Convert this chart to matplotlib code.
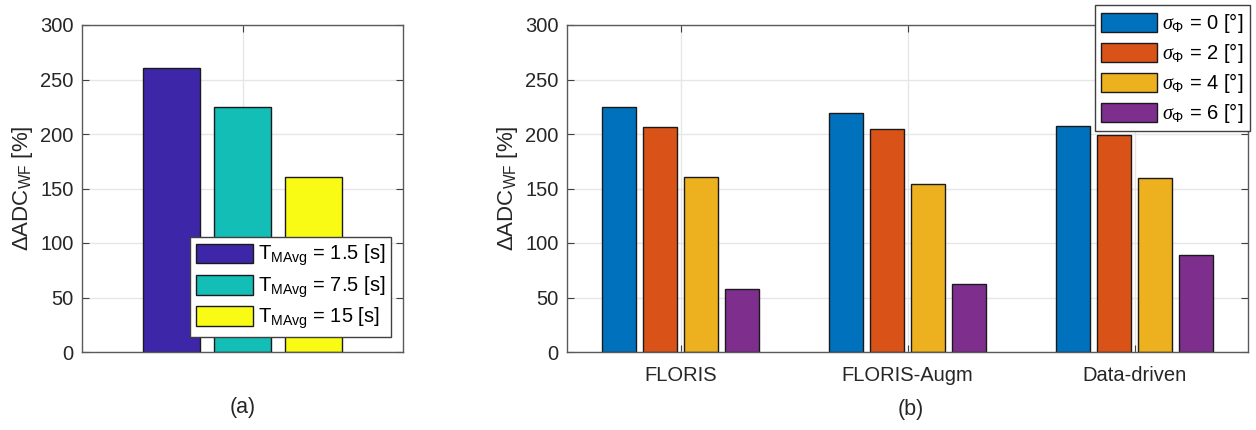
import matplotlib.pyplot as plt
import numpy as np

plt.rcParams['font.family'] = ['Liberation Sans', 'DejaVu Sans']
plt.rcParams['mathtext.fontset'] = 'custom'
plt.rcParams['mathtext.rm'] = 'Liberation Sans'
plt.rcParams['mathtext.it'] = 'Liberation Serif:italic'
plt.rcParams['mathtext.bf'] = 'Liberation Sans:bold'

# (a) moving-average window
tmavg_labels = ['1.5', '7.5', '15']
tmavg_values = [261, 225, 160.5]
tmavg_colors = ['#3E26A8', '#13BEB7', '#F9FB15']

# (b) models vs. yaw noise
models = ['FLORIS', 'FLORIS-Augm', 'Data-driven']
sigma_labels = ['0', '2', '4', '6']
sigma_values = [
    [225, 219.5, 207],
    [206, 205, 199],
    [161, 154, 159.5],
    [58, 62.5, 89],
]
sigma_colors = ['#0072BD', '#D95319', '#EDB120', '#7E2F8E']

FS = 14.5
W, H = 1256, 430
fig = plt.figure(figsize=(W / 100, H / 100), dpi=100)

def style_axes(ax):
    ax.set_ylim(0, 300)
    ax.set_yticks(np.arange(0, 301, 50))
    ax.grid(True, color='#e6e6e6', linewidth=1)
    ax.set_axisbelow(True)
    ax.tick_params(direction='in', top=True, right=True, labelsize=FS,
                   color='#404040', labelcolor='#262626', length=5, pad=6)
    ax.tick_params(axis='x', pad=10)
    for s in ax.spines.values():
        s.set_color('#5a5a5a')
        s.set_linewidth(1)
    ax.set_ylabel(r'$\Delta$ADC$_{\rm WF}$ [%]', fontsize=16, color='#262626',
                  labelpad=4)

# left panel
ax1 = fig.add_axes([82 / W, 1 - 352 / H, (403 - 82) / W, (352 - 25) / H])
offs1 = np.array([-0.222, 0, 0.222])
for i in range(len(tmavg_values)):
    ax1.bar(1 + offs1[i], tmavg_values[i], width=0.178, color=tmavg_colors[i],
            edgecolor='#1a1a1a', linewidth=1,
            label=r'T$_{\rm MAvg}$ = ' + tmavg_labels[i] + ' [s]')
ax1.set_xlim(0.5, 1.5)
ax1.set_xticks([1])
ax1.set_xticklabels([''])
style_axes(ax1)
ax1.legend(loc='lower right', bbox_to_anchor=(391 / W, 1 - 337 / H),
           bbox_transform=fig.transFigure, fontsize=FS, fancybox=False,
           framealpha=1, edgecolor='#404040', handlelength=2.8,
           handleheight=1.1, labelspacing=0.3, borderpad=0.3,
           handletextpad=0.25, borderaxespad=0)
fig.text(243 / W, 1 - 408 / H, '(a)', ha='center', va='center', fontsize=15.5,
         color='#262626')

# right panel
ax2 = fig.add_axes([567 / W, 1 - 352 / H, (1248 - 567) / W, (352 - 25) / H])
x = np.arange(1, len(models) + 1)
offs2 = np.array([-0.273, -0.091, 0.091, 0.273])
for i in range(len(sigma_values)):
    ax2.bar(x + offs2[i], sigma_values[i], width=0.15, color=sigma_colors[i],
            edgecolor='#1a1a1a', linewidth=1,
            label=r'$\sigma_{\Phi}$ = ' + sigma_labels[i] + ' [°]')
ax2.set_xlim(0.5, 3.5)
ax2.set_xticks(x)
ax2.set_xticklabels(models)
style_axes(ax2)
ax2.legend(loc='upper left', bbox_to_anchor=(1095 / W, 1 - 5 / H),
           bbox_transform=fig.transFigure, fontsize=FS, fancybox=False,
           framealpha=1, edgecolor='#404040', handlelength=2.8,
           handleheight=1.05, labelspacing=0.3, borderpad=0.3,
           handletextpad=0.25, borderaxespad=0)
fig.text(911 / W, 1 - 410 / H, '(b)', ha='center', va='center', fontsize=15.5,
         color='#262626')

fig.savefig('out.png', dpi=100)
